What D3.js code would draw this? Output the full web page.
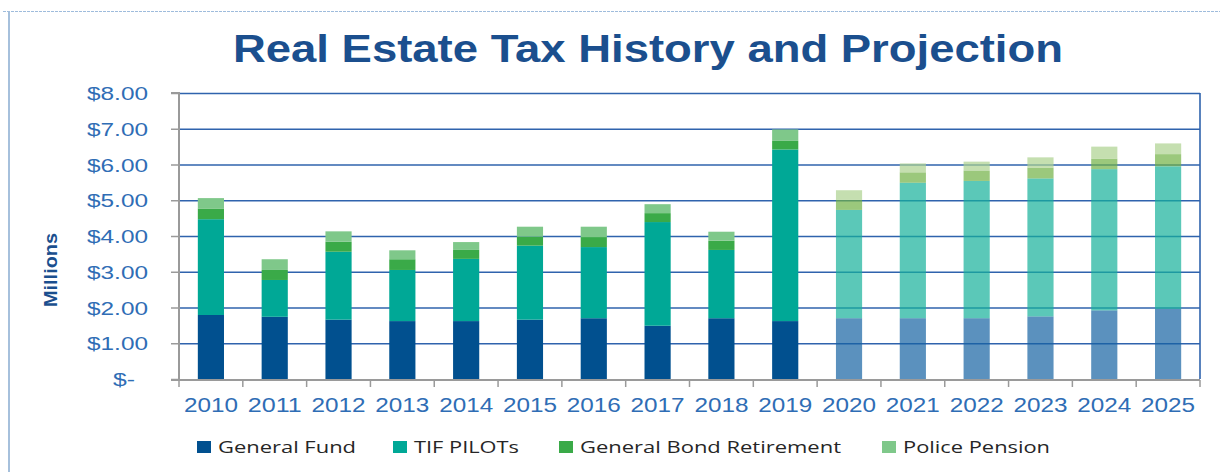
<!DOCTYPE html>
<html>
<head>
<meta charset="utf-8">
<script src="https://cdn.jsdelivr.net/npm/d3@7/dist/d3.min.js"></script>
<style>
    body { margin: 0; background: #fff; }
    svg { display: block; }
    .tick-label { font-family: "Liberation Sans", Arial, sans-serif; fill: #2f6db5; }
</style>
</head>
<body>
<div id="chart"></div>
<script>
// Values in millions of dollars
const years = ['2010', '2011', '2012', '2013', '2014', '2015', '2016', '2017',
               '2018', '2019', '2020', '2021', '2022', '2023', '2024', '2025'];
const generalFund    = [1.79, 1.74, 1.66, 1.62, 1.62, 1.66, 1.70, 1.49, 1.70, 1.62, 1.70, 1.70, 1.70, 1.75, 1.92, 1.96];
const tifPilots      = [2.68, 1.03, 1.90, 1.43, 1.74, 2.07, 1.99, 2.90, 1.91, 4.80, 3.03, 3.79, 3.84, 3.86, 3.95, 3.99];
const bondRetirement = [0.30, 0.28, 0.28, 0.30, 0.25, 0.25, 0.28, 0.25, 0.26, 0.24, 0.28, 0.29, 0.29, 0.30, 0.29, 0.34];
const policePension  = [0.29, 0.30, 0.29, 0.25, 0.22, 0.28, 0.29, 0.25, 0.25, 0.32, 0.27, 0.25, 0.25, 0.29, 0.34, 0.30];
const seriesNames = ['General Fund', 'TIF PILOTs', 'General Bond Retirement', 'Police Pension'];
const firstProjectedYear = '2020';
const yTicks = [0, 1, 2, 3, 4, 5, 6, 7, 8];

const colors = ['#01508f', '#00a896', '#3aaa48', '#7fc88a'];
const projectedColors = ['#1663a2', '#16b09a', '#70b044', '#acd18e'];

const width = 1220, height = 472;
const plot = { left: 179, right: 1200, top: 93, bottom: 379 };

const svg = d3.select('#chart').append('svg')
    .attr('width', width)
    .attr('height', height);

// squeeze/stretch a text to a given width
function fit(sel, w) {
    sel.attr('textLength', w).attr('lengthAdjust', 'spacingAndGlyphs');
}

// outer frame
svg.append('line')
    .attr('x1', 3).attr('x2', width).attr('y1', 11.5).attr('y2', 11.5)
    .attr('stroke', '#9fbcdc').attr('stroke-width', 1.2).attr('stroke-dasharray', '3,1');
svg.append('line')
    .attr('x1', 9).attr('x2', 9).attr('y1', 11).attr('y2', height)
    .attr('stroke', '#a6c0dc').attr('stroke-width', 2);

// title
svg.append('text')
    .attr('x', 648).attr('y', 62)
    .attr('text-anchor', 'middle')
    .style('font-family', '"Liberation Sans", Arial, sans-serif')
    .style('font-weight', 'bold')
    .style('font-size', '38px')
    .style('fill', '#1b4f8e')
    .text('Real Estate Tax History and Projection')
    .call(fit, 830);

const x = d3.scaleBand()
    .domain(years)
    .range([plot.left, plot.right])
    .paddingInner(0.59)
    .paddingOuter(0.295);

const y = d3.scaleLinear()
    .domain([0, 8])
    .range([plot.bottom, plot.top]);

// gridlines
const grid = svg.append('g')
    .attr('transform', `translate(${plot.left},0)`)
    .call(d3.axisLeft(y).tickValues(yTicks.slice(1)).tickSize(-(plot.right - plot.left)).tickFormat(''));
grid.select('.domain').remove();
grid.selectAll('line').attr('stroke', '#2f63ad').attr('stroke-width', 1.6);

// right border of plot area
svg.append('line')
    .attr('x1', plot.right).attr('x2', plot.right)
    .attr('y1', plot.top).attr('y2', plot.bottom)
    .attr('stroke', '#2f63ad').attr('stroke-width', 1.6);

// stacked bars
const rows = years.map((yr, i) => ({
    year: yr,
    'General Fund': generalFund[i],
    'TIF PILOTs': tifPilots[i],
    'General Bond Retirement': bondRetirement[i],
    'Police Pension': policePension[i]
}));
const stacked = d3.stack().keys(seriesNames)(rows);

svg.append('g')
    .selectAll('g')
    .data(stacked)
    .join('g')
    .each(function(layer, k) {
        d3.select(this).selectAll('rect')
            .data(layer)
            .join('rect')
            .attr('x', d => x(d.data.year))
            .attr('width', x.bandwidth())
            .attr('y', d => y(d[1]))
            .attr('height', d => y(d[0]) - y(d[1]))
            .attr('fill', d => d.data.year >= firstProjectedYear ? projectedColors[k] : colors[k])
            .attr('fill-opacity', d => d.data.year >= firstProjectedYear ? 0.7 : 1);
    });

// y axis
const yAxis = svg.append('g')
    .attr('transform', `translate(${plot.left},0)`)
    .call(d3.axisLeft(y)
        .tickValues(yTicks)
        .tickSize(8)
        .tickPadding(23)
        .tickFormat(v => v === 0 ? '$-' : d3.format('$.2f')(v)));
yAxis.select('.domain').attr('stroke', '#9a9a9a').attr('stroke-width', 2)
    .attr('d', `M-8,${plot.top}H0V${plot.bottom + 1}`);
yAxis.selectAll('.tick line').attr('stroke', '#9a9a9a').attr('stroke-width', 1.5);
yAxis.selectAll('.tick text')
    .attr('class', 'tick-label')
    .style('font-size', '18.5px')
    .attr('dy', '0.36em')
    .each(function(v) {
        const t = d3.select(this);
        if (v === 0) { t.attr('dx', -13); fit(t, 22); }
        else fit(t, 61);
    });

// x axis with ticks between categories
svg.append('line')
    .attr('x1', plot.left - 8).attr('x2', plot.right)
    .attr('y1', plot.bottom + 1).attr('y2', plot.bottom + 1)
    .attr('stroke', '#9a9a9a').attr('stroke-width', 2);
svg.append('g')
    .selectAll('line')
    .data(d3.range(years.length + 1))
    .join('line')
    .attr('x1', i => plot.left + i * x.step())
    .attr('x2', i => plot.left + i * x.step())
    .attr('y1', plot.bottom + 1)
    .attr('y2', plot.bottom + 8)
    .attr('stroke', '#9a9a9a').attr('stroke-width', 1.5);

svg.append('g')
    .selectAll('text')
    .data(years)
    .join('text')
    .attr('class', 'tick-label')
    .attr('x', d => x(d) + x.bandwidth() / 2)
    .attr('y', 412)
    .attr('text-anchor', 'middle')
    .style('font-size', '20px')
    .text(d => d)
    .call(fit, 54);

// y axis title
svg.append('text')
    .attr('transform', 'translate(57,270) rotate(-90)')
    .attr('text-anchor', 'middle')
    .style('font-family', '"Liberation Sans", Arial, sans-serif')
    .style('font-weight', 'bold')
    .style('font-size', '19px')
    .style('fill', '#1b4f8e')
    .text('Millions')
    .call(fit, 74);

// legend
const legendX = [197, 393, 559, 882];
const legendW = [138, 105, 261, 147];
const legend = svg.append('g')
    .selectAll('g')
    .data(seriesNames)
    .join('g')
    .attr('transform', (d, i) => `translate(${legendX[i]},441)`);
legend.append('rect')
    .attr('width', 14).attr('height', 12)
    .attr('fill', (d, i) => colors[i]);
legend.append('text')
    .attr('x', 21).attr('y', 12)
    .style('font-family', '"Open Sans", sans-serif')
    .style('font-size', '16px')
    .style('fill', '#262626')
    .text(d => d)
    .each(function(d, i) { fit(d3.select(this), legendW[i]); });
</script>
</body>
</html>
